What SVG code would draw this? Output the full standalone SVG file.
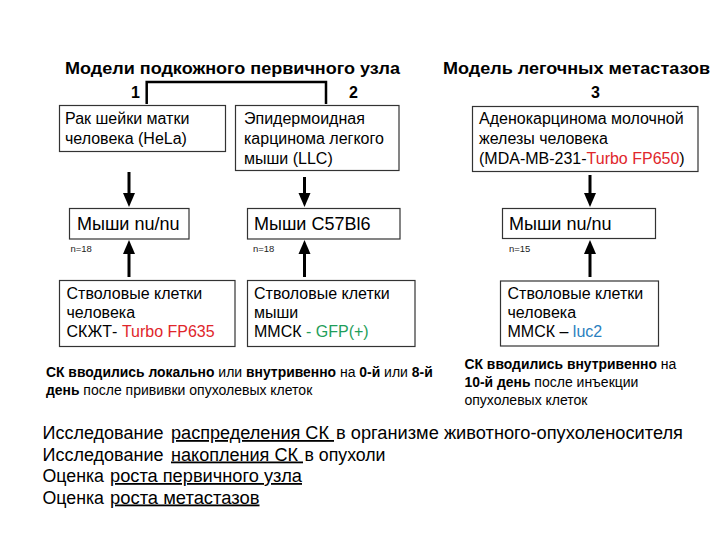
<svg xmlns="http://www.w3.org/2000/svg" width="720" height="540" viewBox="0 0 720 540">
<style>
text{font-family:"Liberation Sans",Arial,sans-serif;fill:#000}
.h{font-size:16px;font-weight:bold}
.t{font-size:16px}
.m{font-size:18px}
.n{font-size:9.5px;fill:#222}
.c{font-size:14px}
.b{font-weight:bold;font-size:13.9px}
.r{fill:#e0262b}
.g{fill:#1f9e5a}
.bl{fill:#2b7fc0}
.box{fill:#fff;stroke:#333;stroke-width:1.2}
.ar{stroke:#000;stroke-width:3;fill:none}
.u{text-decoration:underline}
.f{font-size:18px}
</style>
<rect width="720" height="540" fill="#fff"/>

<text class="h" x="65" y="74" textLength="335" lengthAdjust="spacingAndGlyphs">Модели подкожного первичного узла</text>
<text class="h" x="443" y="74" textLength="267" lengthAdjust="spacingAndGlyphs">Модель легочных метастазов</text>
<text class="h" x="131" y="98">1</text>
<text class="h" x="349" y="98">2</text>
<text class="h" x="591" y="98">3</text>

<g id="connectors">
<path d="M146.7,104 V82 H326 V104" stroke="#000" stroke-width="2.5" fill="none"/>
<line class="ar" x1="129" y1="172" x2="129" y2="194"/>
<path d="M123,193 L135,193 L129,207 Z"/>
<line class="ar" x1="304.5" y1="177" x2="304.5" y2="194"/>
<path d="M298.5,193 L310.5,193 L304.5,207 Z"/>
<line class="ar" x1="590" y1="175" x2="590" y2="194"/>
<path d="M584,193 L596,193 L590,207 Z"/>
<line class="ar" x1="129" y1="277" x2="129" y2="253"/>
<path d="M123,254 L135,254 L129,240 Z"/>
<line class="ar" x1="304.5" y1="277" x2="304.5" y2="253"/>
<path d="M298.5,254 L310.5,254 L304.5,240 Z"/>
<line class="ar" x1="590" y1="277" x2="590" y2="253"/>
<path d="M584,254 L596,254 L590,240 Z"/>
</g>

<g id="hela">
<rect class="box" x="59.5" y="105.5" width="166" height="46"/>
<text class="t" x="65" y="124">Рак шейки матки</text>
<text class="t" x="65" y="144">человека (HeLa)</text>
</g>
<g id="llc">
<rect class="box" x="235.5" y="105.5" width="163.5" height="65"/>
<text class="t" x="244" y="124">Эпидермоидная</text>
<text class="t" x="244" y="144">карцинома легкого</text>
<text class="t" x="244" y="164">мыши (LLC)</text>
</g>
<g id="mda">
<rect class="box" x="472.5" y="106.5" width="225.5" height="65"/>
<text class="t" x="479" y="124">Аденокарцинома молочной</text>
<text class="t" x="479" y="144">железы человека</text>
<text class="t" x="479" y="164">(MDA-MB-231-<tspan class="r">Turbo FP650</tspan>)</text>
</g>

<g id="mice1">
<rect class="box" x="69.5" y="208.5" width="119.5" height="30.5"/>
<text class="m" x="77" y="230">Мыши nu/nu</text>
</g>
<text class="n" x="70.5" y="251.5">n=18</text>
<g id="mice2">
<rect class="box" x="247.5" y="208.5" width="152.5" height="30.5"/>
<text class="m" x="254" y="230">Мыши C57Bl6</text>
</g>
<text class="n" x="253" y="251.5">n=18</text>
<g id="mice3">
<rect class="box" x="502.5" y="208.5" width="153" height="30"/>
<text class="m" x="509" y="229.5">Мыши nu/nu</text>
</g>
<text class="n" x="509" y="251.5">n=15</text>

<g id="stem1">
<rect class="box" x="59.5" y="280.5" width="175.5" height="66"/>
<text class="t" x="66.5" y="299">Стволовые клетки</text>
<text class="t" x="66.5" y="318">человека</text>
<text class="t" x="66.5" y="337">СКЖТ- <tspan class="r">Turbo FP635</tspan></text>
</g>
<g id="stem2">
<rect class="box" x="247.5" y="280.5" width="167.5" height="66"/>
<text class="t" x="254" y="299">Стволовые клетки</text>
<text class="t" x="254" y="318">мыши</text>
<text class="t" x="254" y="337">ММСК<tspan class="g"> - GFP(+)</tspan></text>
</g>
<g id="stem3">
<rect class="box" x="500.5" y="281" width="158" height="65"/>
<text class="t" x="507.5" y="298.5">Стволовые клетки</text>
<text class="t" x="507.5" y="318">человека</text>
<text class="t" x="507.5" y="337">ММСК – <tspan class="bl">luc2</tspan></text>
</g>

<text class="c" x="46" y="376.5"><tspan class="b">СК вводились локально</tspan> или <tspan class="b">внутривенно</tspan> на <tspan class="b">0-й</tspan> или <tspan class="b">8-й</tspan></text>
<text class="c" x="46" y="394.5"><tspan class="b">день</tspan> после прививки опухолевых клеток</text>

<text class="c" x="464.5" y="369"><tspan class="b">СК вводились внутривенно</tspan> на</text>
<text class="c" x="464.5" y="387"><tspan class="b">10-й день</tspan> после инъекции</text>
<text class="c" x="464.5" y="404.5">опухолевых клеток</text>

<text class="f" x="42.5" y="439" textLength="121" lengthAdjust="spacingAndGlyphs">Исследование</text>
<text class="f u" x="171" y="439" textLength="163" lengthAdjust="spacingAndGlyphs">распределения СК&#160;</text>
<text class="f" x="336" y="439" textLength="347" lengthAdjust="spacingAndGlyphs">в организме животного-опухоленосителя</text>

<text class="f" x="42.5" y="460.5" textLength="121" lengthAdjust="spacingAndGlyphs">Исследование</text>
<text class="f u" x="171" y="460.5" textLength="132" lengthAdjust="spacingAndGlyphs">накопления СК&#160;</text>
<text class="f" x="304.5" y="460.5" textLength="81" lengthAdjust="spacingAndGlyphs">в опухоли</text>

<text class="f" x="42.5" y="482" textLength="61.5" lengthAdjust="spacingAndGlyphs">Оценка</text>
<text class="f u" x="110" y="482" textLength="192" lengthAdjust="spacingAndGlyphs">роста первичного узла</text>

<text class="f" x="42.5" y="503.5" textLength="61.5" lengthAdjust="spacingAndGlyphs">Оценка</text>
<text class="f u" x="110" y="503.5" textLength="149.5" lengthAdjust="spacingAndGlyphs">роста метастазов</text>
</svg>
